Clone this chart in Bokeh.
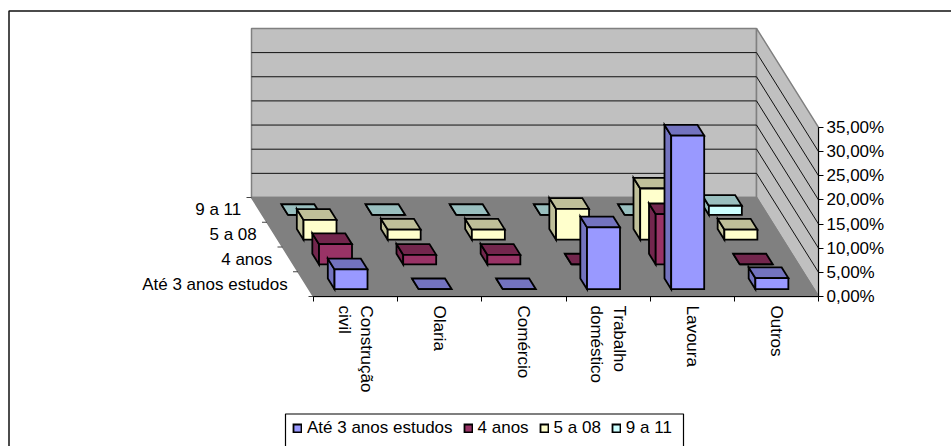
import math
from bokeh.embed import file_html
from bokeh.resources import INLINE
from bokeh.plotting import figure
from bokeh.models import Range1d, FixedTicker, BoxAnnotation, Legend, LegendItem, LinearAxis
from bokeh.core.properties import value

categories = ["Construção\ncivil", "Olaria", "Comércio", "Trabalho\ndoméstico", "Lavoura", "Outros"]
series_names = ["Até 3 anos estudos", "4 anos", "5 a 08", "9 a 11"]
ate3 = [4.1, 0, 0, 12.8, 31.8, 2.3]
anos4 = [4.2, 2.0, 2.0, 0, 10.4, 0]
a508 = [4.1, 2.1, 2.1, 6.4, 10.6, 2.1]
a911 = [0, 0, 0, 0, 0, 1.9]
series_values = [ate3, anos4, a508, a911]
front_colors = ["#9999FF", "#993366", "#FFFFCC", "#CCFFFF"]
shade_colors = ["#7373BF", "#73264D", "#BFBF99", "#99BFBF"]
value_ticks = [0, 5, 10, 15, 20, 25, 30, 35]

FONT = "Liberation Sans"
FS = "17px"
PX_U = 84.17      # pixels per category
PX_V = 4.83       # pixels per percent
DX = 15.5 / PX_U  # shear per depth step, in category units
DY = 24.75 / PX_V # shear per depth step, in percent units
N = len(categories)
D = len(series_names)
VMAX = value_ticks[-1]


def px(u, d, v):
    return u - DX * d


def py(u, d, v):
    return v + DY * d


def poly(points):
    return [px(*q) for q in points], [py(*q) for q in points]


W, H = 951, 446
X0, Y0 = 313, 296   # front-left floor corner in picture pixels

p = figure(width=W, height=H, output_backend="svg", toolbar_location=None,
           x_range=Range1d(-X0 / PX_U, (W - X0) / PX_U),
           y_range=Range1d(-(H - Y0) / PX_V, Y0 / PX_V),
           min_border=0, min_border_left=0, min_border_right=0, min_border_top=0, min_border_bottom=0,
           background_fill_color="white", border_fill_color="white", outline_line_color=None)
p.grid.visible = False


def xpix(sx):
    return (sx - X0) / PX_U


def ypix(sy):
    return (Y0 - sy) / PX_V


# outer chart border, cropped by the picture at right and bottom
p.add_layout(BoxAnnotation(left=xpix(8.5), right=xpix(W + 40), top=ypix(10.5), bottom=ypix(H + 40),
                           fill_alpha=0, line_color="#111111", line_alpha=1, line_width=1.5, level="underlay"))

# walls and floor
WALL = "#C0C0C0"
for pts, fill in [
    ([(0, D, 0), (N, D, 0), (N, D, VMAX), (0, D, VMAX)], WALL),
    ([(N, 0, 0), (N, D, 0), (N, D, VMAX), (N, 0, VMAX)], WALL),
    ([(0, 0, 0), (N, 0, 0), (N, D, 0), (0, D, 0)], "#808080"),
]:
    xs, ys = poly(pts)
    p.patch(xs, ys, fill_color=fill, line_color="#808080", line_width=1.5)

# gridlines along back wall and right wall
for t in value_ticks[1:-1]:
    xs, ys = poly([(0, D, t), (N, D, t), (N, 0, t)])
    p.line(xs, ys, line_color="#111111", line_width=1)

# depth ticks and labels
for d in range(D + 1):
    xs, ys = poly([(0, d, 0)])
    p.segment(x0=[xs[0] - 5 / PX_U], y0=ys, x1=xs, y1=ys, line_color="#444444", line_width=1)
lx = [px(0, d + 0.5, 0) for d in range(D)]
ly = [py(0, d + 0.5, 0) for d in range(D)]
p.text(lx, ly, text=series_names, text_align="right", text_baseline="middle", x_offset=-18,
       text_font=value(FONT), text_font_size=value(FS), text_color="black")

# bars, back row first
BAR_M = 0.304
DEP_M = 0.295
DEP_W = 0.432
items = [None] * D
for d in reversed(range(D)):
    vals = series_values[d]
    d0, d1 = d + DEP_M, d + DEP_M + DEP_W
    for c, v in enumerate(vals):
        u0, u1 = c + BAR_M, c + 1 - BAR_M
        for pts, col in [
            ([(u0, d0, 0), (u0, d1, 0), (u0, d1, v), (u0, d0, v)], shade_colors[d]),
            ([(u0, d0, v), (u1, d0, v), (u1, d1, v), (u0, d1, v)], shade_colors[d]),
            ([(u0, d0, 0), (u1, d0, 0), (u1, d0, v), (u0, d0, v)], front_colors[d]),
        ]:
            xs, ys = poly(pts)
            r = p.patches([xs], [ys], fill_color=col, line_color="black", line_width=1.8, line_join="miter")
    items[d] = LegendItem(label=series_names[d], renderers=[r])

# axes, pinned to the floor's front edge and the right wall's front edge
xa = p.xaxis[0]
xa.fixed_location = 0
xa.bounds = (0, N)
xa.ticker = FixedTicker(ticks=[c + 0.5 for c in range(N)], minor_ticks=list(range(N + 1)))
xa.major_label_overrides = {c + 0.5: lab for c, lab in enumerate(categories)}
xa.major_label_orientation = -math.pi / 2
xa.major_tick_out = 0
xa.major_tick_in = 0
xa.minor_tick_out = 5
xa.minor_tick_in = 0
xa.major_label_standoff = 4
xa.major_label_text_font = FONT
xa.major_label_text_font_size = FS
xa.major_label_text_color = "black"
xa.axis_line_color = "black"
xa.minor_tick_line_color = "black"

p.yaxis.visible = False
ya = LinearAxis(fixed_location=N, bounds=(0, VMAX), ticker=FixedTicker(ticks=value_ticks))
ya.major_label_overrides = {t: f"{t:.2f}".replace(".", ",") + "%" for t in value_ticks}
ya.major_tick_out = 5
ya.major_tick_in = 0
ya.minor_tick_line_color = None
ya.major_label_standoff = 3
ya.major_label_text_font = FONT
ya.major_label_text_font_size = FS
ya.major_label_text_color = "black"
ya.axis_line_color = "black"
ya.major_tick_line_color = "black"
p.add_layout(ya, "right")

# legend box (open at the picture's bottom edge) and legend
p.add_layout(BoxAnnotation(left=xpix(285), right=xpix(683), top=ypix(413.5), bottom=ypix(H + 40),
                           fill_color="white", fill_alpha=1, line_color="black", line_alpha=1, line_width=1.2))
legend = Legend(items=items, orientation="horizontal", location=(292, 8), padding=0, margin=0,
                spacing=10, glyph_width=10, glyph_height=10, label_standoff=5, label_height=16,
                background_fill_alpha=0, border_line_alpha=0,
                label_text_font=FONT, label_text_font_size=FS, label_text_color="black")
p.add_layout(legend, "center")

open("out.html", "w").write(file_html(p, INLINE))
